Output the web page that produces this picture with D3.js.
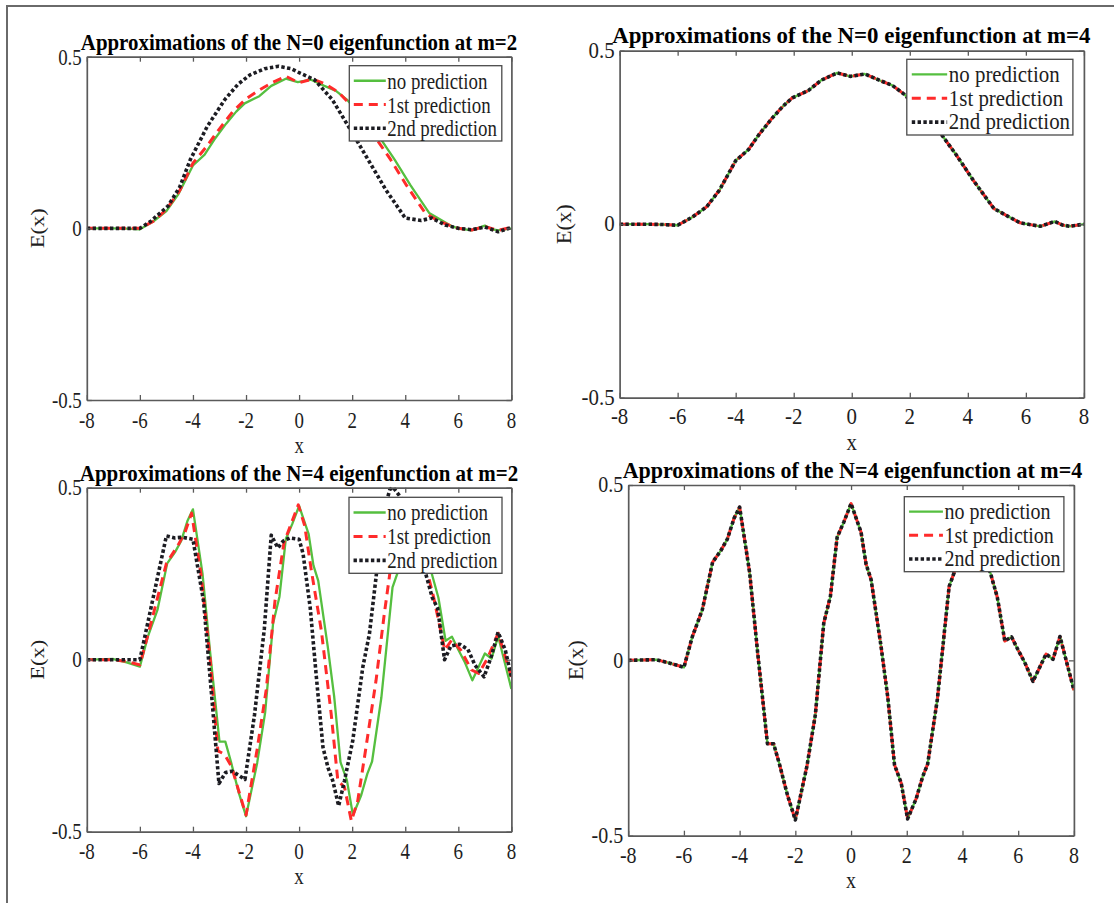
<!DOCTYPE html>
<html><head><meta charset="utf-8">
<script src="https://cdn.jsdelivr.net/npm/d3@7"></script>
<style>body{margin:0;background:#fff}svg{display:block}</style>
</head><body>
<svg id="chart" width="1114" height="903"></svg>
<script>
// ---------------- data ----------------
const xTicks = [-8, -6, -4, -2, 0, 2, 4, 6, 8];
const yTicks = [-0.5, 0, 0.5];
const yTickLabels = ["-0.5", "0", "0.5"];
const seriesNames = ["no prediction", "1st prediction", "2nd prediction"];
const panelTitles = [
  "Approximations of the N=0 eigenfunction at m=2",
  "Approximations of the N=0 eigenfunction at m=4",
  "Approximations of the N=4 eigenfunction at m=2",
  "Approximations of the N=4 eigenfunction at m=4"
];

// N=0 "no prediction"
const n0NoPredX = [-8,-7,-6.5,-6,-5.5,-5,-4.56,-4,-3.56,-3.2,-2.75,-2.37,-2.05,-1.5,-1.05,-0.5,-0.05,0.45,0.95,1.4,1.8,2.2,2.6,3.06,3.6,4.2,4.9,5.4,5.8,6.2,6.5,7.0,7.25,7.5,8];
const n0NoPredY = [0,0,-0.001,-0.003,0.02,0.05,0.098,0.183,0.215,0.258,0.305,0.34,0.364,0.385,0.415,0.436,0.426,0.433,0.415,0.4,0.375,0.34,0.3,0.262,0.2,0.125,0.045,0.022,0.004,-0.002,-0.006,0.008,-0.002,-0.006,0];
// N=0, m=2 "1st prediction"
const n0m2FirstX = [-8,-6,-5.5,-5,-4.5,-4,-3.5,-3,-2.5,-2,-1.5,-1,-0.5,0,0.5,1,1.5,2,2.5,2.9,3.45,4.05,4.75,4.95,5.3,5.7,6,6.5,7,7.5,8];
const n0m2FirstY = [0,0,0.02,0.055,0.11,0.19,0.237,0.29,0.34,0.377,0.403,0.425,0.443,0.424,0.435,0.42,0.395,0.355,0.305,0.262,0.2,0.125,0.045,0.035,0.02,0.008,0,-0.005,0.005,-0.006,0.003];
// N=0, m=2 "2nd prediction"
const n0m2SecondX = [-8,-6,-5.6,-4.94,-4.5,-4.1,-3.46,-2.8,-2.3,-1.85,-1.3,-0.77,-0.3,0.04,0.58,1.25,1.86,2.6,3.27,4.0,4.6,5.0,5.5,6,6.5,7,7.5,8];
const n0m2SecondY = [0,0,0.02,0.065,0.12,0.2,0.297,0.375,0.42,0.447,0.465,0.472,0.465,0.452,0.433,0.375,0.297,0.2,0.112,0.03,0.023,0.03,0.01,0,-0.004,0.004,-0.01,0.002];

// N=4 "no prediction"
const n4NoPredX = [-8,-7.5,-7,-6.5,-6,-5.7,-5.34,-4.97,-4.68,-4.44,-4.2,-4,-3.64,-3.35,-3,-2.78,-2.57,-2.28,-2,-1.58,-1.28,-0.98,-0.74,-0.5,-0.26,0,0.36,0.54,0.72,1.08,1.32,1.56,1.8,2.03,2.34,2.57,2.75,3.1,3.52,3.7,4,4.3,4.6,5,5.25,5.52,5.76,6,6.23,6.53,7,7.25,7.5,8];
const n4NoPredY = [0,0.001,0.002,-0.008,-0.02,0.067,0.144,0.28,0.312,0.346,0.405,0.437,0.25,0.02,-0.238,-0.238,-0.296,-0.385,-0.455,-0.3,-0.154,0.106,0.183,0.351,0.394,0.447,0.365,0.274,0.23,0.038,-0.106,-0.298,-0.35,-0.452,-0.394,-0.332,-0.296,-0.11,0.21,0.25,0.44,0.39,0.33,0.25,0.18,0.055,0.067,0.029,-0.005,-0.06,0.018,0.003,0.068,-0.085];
// N=4, m=2 "1st prediction"
const n4m2FirstX = [-8,-7,-6.5,-6,-5.5,-5,-4.56,-4.3,-4.05,-3.7,-3.35,-3.06,-2.81,-2.55,-2.28,-2,-1.58,-1.24,-0.91,-0.79,-0.57,-0.25,-0.03,0.21,0.46,0.84,1.21,1.46,1.71,1.97,2.21,2.52,2.9,3.21,3.4,3.6,3.8,4,4.3,4.6,4.88,5.08,5.49,5.75,6.09,6.5,6.77,7.1,7.5,8];
const n4m2FirstY = [0,0,-0.005,-0.015,0.13,0.28,0.333,0.37,0.426,0.25,0,-0.265,-0.275,-0.31,-0.38,-0.452,-0.26,-0.088,0.17,0.23,0.34,0.405,0.45,0.39,0.26,0.084,-0.158,-0.352,-0.37,-0.469,-0.41,-0.255,-0.06,0.133,0.24,0.36,0.43,0.44,0.39,0.32,0.24,0.178,0.028,0.057,0.028,-0.03,-0.04,0.004,0.077,-0.05];
// N=4, m=2 "2nd prediction"
const n4m2SecondX = [-8,-6,-5,-4.69,-4.4,-4,-3.6,-3.3,-3.02,-2.77,-2.52,-2.04,-1.68,-1.31,-1.05,-0.8,-0.6,-0.35,0,0.15,0.42,0.65,0.9,1.09,1.27,1.49,1.71,2.02,2.4,2.65,2.9,3.15,3.42,3.55,3.75,4,4.3,4.6,4.8,5.02,5.22,5.48,5.72,6.05,6.36,6.63,6.97,7.24,7.5,7.77,8];
const n4m2SecondY = [0,0,0.36,0.354,0.356,0.35,0.17,-0.1,-0.36,-0.328,-0.324,-0.348,-0.16,0.09,0.362,0.325,0.345,0.354,0.35,0.308,0.15,-0.05,-0.255,-0.314,-0.352,-0.425,-0.352,-0.236,-0.022,0.075,0.24,0.42,0.495,0.5,0.48,0.45,0.38,0.3,0.242,0.18,0.15,0,0.04,0.045,0.03,-0.016,-0.05,0.009,0.08,0.028,-0.05];

// at m=4 the three approximations coincide with the no-prediction curve
const panelSeries = [
  [[n0NoPredX, n0NoPredY], [n0m2FirstX, n0m2FirstY], [n0m2SecondX, n0m2SecondY]],
  [[n0NoPredX, n0NoPredY], [n0NoPredX, n0NoPredY], [n0NoPredX, n0NoPredY]],
  [[n4NoPredX, n4NoPredY], [n4m2FirstX, n4m2FirstY], [n4m2SecondX, n4m2SecondY]],
  [[n4NoPredX, n4NoPredY], [n4NoPredX, n4NoPredY], [n4NoPredX, n4NoPredY]]
];

// ---------------- layout ----------------
const layout = [
  {L:86.8, R:511.4, T:56.7, B:400,   tx:299,   ty:50,    fH:18.9, tH:20.9, lg:[349.3,501.8,65.7,141],  eX:37.5},
  {L:619.6,R:1083.9,T:50.7, B:397.7, tx:851.4, ty:43,    fH:20.9, tH:22.9, lg:[906.8,1072.9,59.3,135], eX:564},
  {L:86.8, R:511.4, T:487.7,B:831.7, tx:299,   ty:480.7, fH:19.0, tH:21.0, lg:[349,502,497.3,573.3],   eX:37.5},
  {L:628.2,R:1073.9,T:485,  B:835.7, tx:852.4, ty:478.3, fH:20.0, tH:22.0, lg:[904.3,1063.9,496.7,571.7], eX:576.4}
];
const V_AXIS = 22.5, V_TITLE = 23.5;
const FONT = "'Liberation Serif','Times New Roman',serif";
const styles = [
  {color:"#55bf3f", width:2.3, dash:null},
  {color:"#ff2b2b", width:3,   dash:"9,6"},
  {color:"#1c1c22", width:3.6, dash:"3.4,2.4"}
];
const AXIS_COLOR = "#5a5a5a";

const svg = d3.select("#chart");
svg.append("rect").attr("width",1114).attr("height",903).attr("fill","#fff");

// outer frame (top and left edges)
svg.append("path").attr("d","M7,903 L7,6 L1114,6").attr("fill","none")
  .attr("stroke","#6a6a6a").attr("stroke-width",2);

function addText(g, x, y, s, o) {
  const sv = o.v / o.size;
  const tr = o.rotate ? `translate(${x},${y}) rotate(-90) scale(${sv},1)` : `translate(${x},${y}) scale(1,${sv})`;
  return g.append("text").attr("transform", tr)
    .attr("font-family", FONT).attr("font-size", o.size)
    .attr("font-weight", o.weight || "normal")
    .attr("text-anchor", o.anchor || "middle")
    .attr("dominant-baseline", o.baseline || "auto")
    .attr("fill", o.fill || "#1e1e1e")
    .text(s);
}

layout.forEach((p, i) => {
  const g = svg.append("g");
  const x = d3.scaleLinear().domain([-8, 8]).range([p.L, p.R]);
  const y = d3.scaleLinear().domain([-0.5, 0.5]).range([p.B, p.T]);

  const clipId = "clip" + i;
  g.append("clipPath").attr("id", clipId).append("rect")
    .attr("x", p.L).attr("y", p.T - 2).attr("width", p.R - p.L).attr("height", p.B - p.T + 4);

  // curves
  const line = d3.line().x(d => x(d[0])).y(d => y(d[1]));
  const cg = g.append("g").attr("clip-path", `url(#${clipId})`);
  panelSeries[i].forEach((s, k) => {
    const st = styles[k];
    cg.append("path").datum(d3.zip(s[0], s[1])).attr("d", line)
      .attr("fill", "none").attr("stroke", st.color).attr("stroke-width", st.width)
      .attr("stroke-dasharray", st.dash).attr("stroke-linejoin", "round");
  });

  // axes (ticks inside box)
  const axes = [
    d3.axisBottom(x).tickValues(xTicks), d3.axisTop(x).tickValues(xTicks),
    d3.axisLeft(y).tickValues(yTicks), d3.axisRight(y).tickValues(yTicks)
  ];
  const tr = [`translate(0,${p.B})`, `translate(0,${p.T})`, `translate(${p.L},0)`, `translate(${p.R},0)`];
  axes.forEach((a, j) => {
    const ag = g.append("g").attr("transform", tr[j])
      .call(a.tickSizeInner(-5).tickSizeOuter(0).tickFormat(""));
    ag.select(".domain").attr("stroke", AXIS_COLOR).attr("stroke-width", 1.7);
    ag.selectAll(".tick line").attr("stroke", AXIS_COLOR).attr("stroke-width", 1.3);
  });

  // tick labels
  xTicks.forEach(t => addText(g, x(t), p.B + 19.5, String(t), {size:p.fH, v:V_AXIS, baseline:"central"}));
  yTicks.forEach((t, k) => addText(g, p.L - 5, y(t), yTickLabels[k], {size:p.fH, v:V_AXIS, anchor:"end", baseline:"central"}));

  // axis labels
  addText(g, (p.L + p.R) / 2, p.B + 45, "x", {size:p.fH, v:V_AXIS, baseline:"central"});
  addText(g, p.eX, (p.T + p.B) / 2, "E(x)", {size:p.fH, v:V_AXIS, baseline:"central", rotate:true});

  // title
  addText(g, p.tx, p.ty, panelTitles[i], {size:p.tH, v:V_TITLE, weight:"bold", fill:"#000"});

  // legend
  const [lx0, lx1, ly0, ly1] = p.lg;
  const lg = g.append("g");
  lg.append("rect").attr("x", lx0).attr("y", ly0).attr("width", lx1 - lx0).attr("height", ly1 - ly0)
    .attr("fill", "#fff").attr("stroke", "#4a4a4a").attr("stroke-width", 1.3);
  const rowFrac = [0.2, 0.515, 0.83];
  const k = p.fH / 18.9;
  seriesNames.forEach((name, j) => {
    const ry = ly0 + (ly1 - ly0) * rowFrac[j];
    const st = styles[j];
    lg.append("line").attr("x1", lx0 + 4.5 * k).attr("x2", lx0 + 36.5 * k).attr("y1", ry).attr("y2", ry)
      .attr("stroke", st.color).attr("stroke-width", st.width).attr("stroke-dasharray", st.dash);
    addText(lg, lx0 + 38 * k, ry, name, {size:p.fH, v:V_AXIS, anchor:"start", baseline:"central"});
  });
});
</script>
</body></html>
